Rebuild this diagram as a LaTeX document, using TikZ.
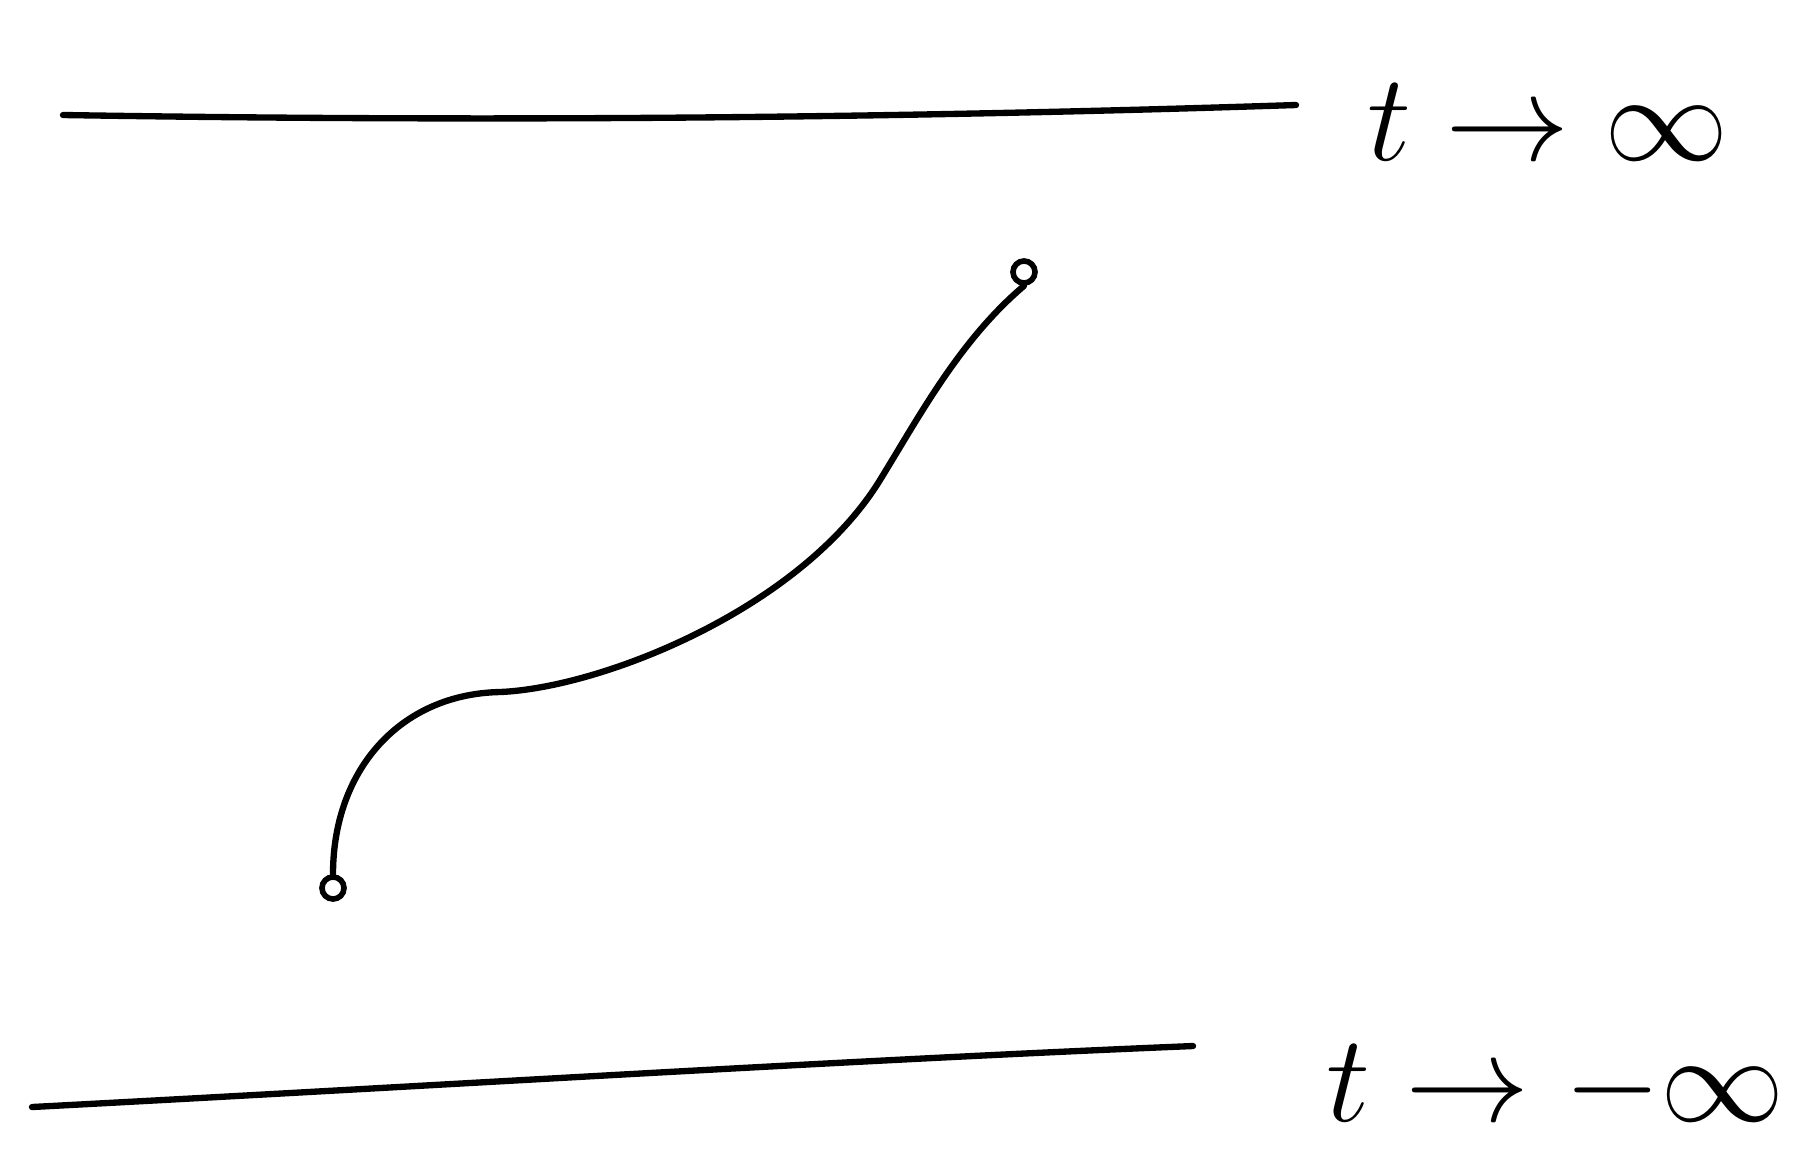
\documentclass[tikz,border=0pt]{standalone}
\usepackage{tikz}
\newcommand{\limitlabel}[1]{\scalebox{1.42}{$#1$}}

\begin{document}
\begin{tikzpicture}[
    x=0.01cm,y=-0.01cm,
    pen/.style={line width=1.8pt, line cap=round, line join=round},
    insertion/.style={circle, draw, line width=1.6pt, minimum size=0.22cm, inner sep=0pt},
    limit/.style={font=\Huge, inner sep=0pt}
  ]
    \useasboundingbox (0,0) rectangle (1798,1166);

    % boundary at late times
    \draw[pen] (63,115) .. controls (500,122) and (900,118) .. (1296,105);
    \node[limit] (late) at (1548,122) {\limitlabel{t\to\infty}};

    % boundary at early times
    \draw[pen] (32,1107) .. controls (450,1085) and (850,1060) .. (1193,1046);
    \node[limit] (early) at (1556,1088) {\limitlabel{t\to-\infty}};

    % end points of the path
    \node[insertion] (start) at (333,888) {};
    \node[insertion] (stop) at (1024,272) {};

    \draw[pen] (start.north) .. controls (333,770) and (400,694) .. (500,692)
      .. controls (600,688) and (800,610) .. (880,480)
      .. controls (920,415) and (960,340) .. (stop.south);
  \end{tikzpicture}
\end{document}
